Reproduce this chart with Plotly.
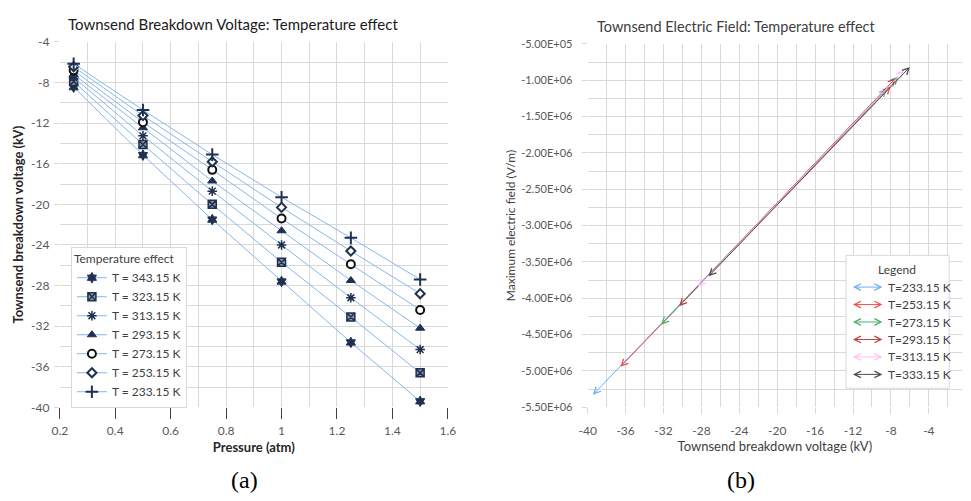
import plotly.graph_objects as go

# ---------------- data: panel (a) ----------------
pressure = [0.25, 0.5, 0.75, 1.0, 1.25, 1.5]
labels_a = ["T = 343.15 K", "T = 323.15 K", "T = 313.15 K", "T = 293.15 K",
            "T = 273.15 K", "T = 253.15 K", "T = 233.15 K"]
v_343 = [-8.45, -15.15, -21.5, -27.6, -33.6, -39.4]
v_323 = [-7.9, -14.1, -20.0, -25.7, -31.1, -36.6]
v_313 = [-7.5, -13.25, -18.7, -24.0, -29.2, -34.3]
v_293 = [-7.2, -12.45, -17.7, -22.6, -27.5, -32.2]
v_273 = [-6.8, -11.9, -16.6, -21.4, -25.9, -30.4]
v_253 = [-6.45, -11.25, -15.8, -20.3, -24.6, -28.8]
v_233 = [-6.15, -10.7, -15.1, -19.3, -23.3, -27.4]
series_a = [v_343, v_323, v_313, v_293, v_273, v_253, v_233]
x_ticks_a = [0.2, 0.4, 0.6, 0.8, 1.0, 1.2, 1.4, 1.6]
y_ticks_a = [-4, -8, -12, -16, -20, -24, -28, -32, -36, -40]

# ---------------- data: panel (b) ----------------
labels_b = ["T=233.15 K", "T=253.15 K", "T=273.15 K", "T=293.15 K",
            "T=313.15 K", "T=333.15 K"]
v_low = [-39.6, -36.7, -32.4, -30.5, -28.5, -27.4]
e_low = [-5.35e6, -4.965e6, -4.386e6, -4.13e6, -3.86e6, -3.72e6]
v_high = [-8.43, -8.02, -7.22, -7.50, -6.63, -6.0]
e_high = [-1.119e6, -1.084e6, -9.5e5, -9.72e5, -8.65e5, -8.17e5]
x_ticks_b = [-40, -36, -32, -28, -24, -20, -16, -12, -8, -4]
y_ticks_b = [-5.0e5, -1.0e6, -1.5e6, -2.0e6, -2.5e6, -3.0e6, -3.5e6,
             -4.0e6, -4.5e6, -5.0e6, -5.5e6]

# ---------------- styles ----------------
W, H = 971, 501
FONT = "Lato"
GRID = "#d9d9d9"
NAVY = "#1f3050"
LINE_A = "#86b6ea"
marker_styles = [
    dict(symbol="hexagram", size=8, color=NAVY, line=dict(color=NAVY, width=1)),
    dict(symbol="square-x", size=8, color="#8a96aa", line=dict(color=NAVY, width=1.5)),
    dict(symbol="asterisk-open", size=8, color=NAVY, line=dict(color=NAVY, width=1.5)),
    dict(symbol="triangle-up", size=8, color=NAVY, line=dict(color=NAVY, width=1)),
    dict(symbol="circle", size=8, color="white", line=dict(color="#111111", width=2)),
    dict(symbol="diamond", size=7, color="white", line=dict(color=NAVY, width=2)),
    dict(symbol="cross-thin-open", size=9, color=NAVY, line=dict(color=NAVY, width=2)),
]
arrow_colors = ["#6aaef0", "#f05050", "#4caf6a", "#b84545", "#ffbdf7", "#4d4d4d"]


def px_x(p):
    return p / W


def px_y(p):
    return (H - p) / H


def note(x, y, text, **kw):
    d = dict(x=px_x(x), y=px_y(y), xref="paper", yref="paper", text=text,
             showarrow=False, xanchor="center", yanchor="middle")
    d.update(kw)
    return d


fig = go.Figure()

for lab, vals, ms in zip(labels_a, series_a, marker_styles):
    fig.add_trace(go.Scatter(
        x=pressure, y=vals, name=lab, mode="lines+markers",
        line=dict(color=LINE_A, width=1), marker=ms,
        xaxis="x", yaxis="y"))

# invisible anchor trace for panel (b)
fig.add_trace(go.Scatter(x=v_low + v_high, y=e_low + e_high, mode="markers",
                         marker=dict(opacity=0), showlegend=False,
                         hoverinfo="skip", xaxis="x2", yaxis="y2"))

AH = dict(arrowside="end+start", arrowhead=5, startarrowhead=5, arrowsize=1.3,
          startarrowsize=1.3, arrowwidth=1, standoff=0, startstandoff=0)

annotations = []
for v0, e0, v1, e1, col in zip(v_low, e_low, v_high, e_high, arrow_colors):
    annotations.append(dict(
        x=v1, y=e1, ax=v0, ay=e0, xref="x2", yref="y2", axref="x2", ayref="y2",
        text="", showarrow=True, arrowcolor=col, **AH))

# manual legend for panel (b)
annotations.append(note(904, 270, "Legend",
                        font=dict(family=FONT, size=12, color="#404040")))
for i, (lab, col) in enumerate(zip(labels_b, arrow_colors)):
    yy = 287.7 + i * 18
    annotations.append(dict(
        x=px_x(889), y=px_y(yy), xref="paper", yref="paper", ax=-31, ay=0,
        axref="pixel", ayref="pixel", text="", showarrow=True,
        arrowcolor=col, **AH))
    annotations.append(note(893, yy, lab, xanchor="left",
                            font=dict(family=FONT, size=12, color="#404040")))

# titles and panel labels
annotations += [
    note(228, 16, "Townsend Breakdown Voltage: Temperature effect",
         font=dict(family=FONT, size=15, color="#1a1a1a")),
    note(740, 19, "Townsend Electric Field: Temperature effect",
         font=dict(family=FONT, size=14.5, color="#404040")),
    note(240, 487, "(a)", font=dict(family="Liberation Serif", size=24, color="black")),
    note(745, 487, "(b)", font=dict(family="Liberation Serif", size=24, color="black")),
]

shapes = [dict(type="rect", xref="paper", yref="paper",
               x0=px_x(852), x1=px_x(957), y0=px_y(392), y1=px_y(255),
               line=dict(color=GRID, width=1), fillcolor="white", layer="above")]

tickfont = dict(family=FONT, size=12, color="#595959")

fig.update_layout(
    width=W, height=H, margin=dict(l=0, r=0, t=0, b=0),
    paper_bgcolor="white", plot_bgcolor="white",
    font=dict(family=FONT, color="#404040"),
    showlegend=True,
    legend=dict(x=px_x(63), y=px_y(246), xanchor="left", yanchor="top",
                bgcolor="white", bordercolor=GRID, borderwidth=1,
                font=dict(family=FONT, size=12, color="#404040"),
                title=dict(text="Temperature effect",
                           font=dict(family=FONT, size=12, color="#404040")),
                itemwidth=30, tracegroupgap=0),
    xaxis=dict(domain=[px_x(51.7), px_x(446.7)], range=[0.2, 1.6],
               tickvals=x_ticks_a, ticktext=[f"{v:g}" for v in x_ticks_a],
               showgrid=True, gridcolor=GRID, zeroline=False,
               minor=dict(dtick=0.1, tick0=0.2, showgrid=True, gridcolor=GRID),
               ticks="outside", ticklen=11, tickcolor="#404040", tickfont=tickfont,
               ticklabelstandoff=1,
               title=dict(text="Pressure (atm)", standoff=6,
                          font=dict(family=FONT, size=13, color="#262626", weight="bold")),
               anchor="y"),
    yaxis=dict(domain=[px_y(411.7), px_y(35)], range=[-40, -4],
               tickvals=y_ticks_a, ticktext=[f"{v:g}" for v in y_ticks_a],
               showgrid=True, gridcolor=GRID, zeroline=False,
               minor=dict(dtick=2, tick0=-40, showgrid=True, gridcolor=GRID),
               ticks="outside", ticklen=5, tickcolor=GRID, tickfont=tickfont,
               ticklabelstandoff=2,
               title=dict(text="Townsend breakdown voltage (kV)", standoff=4,
                          font=dict(family=FONT, size=13, color="#262626", weight="bold")),
               anchor="x"),
    xaxis2=dict(domain=[px_x(589), px_x(970)], range=[-40, -0.5],
                tickvals=x_ticks_b, ticktext=[f"{v:g}" for v in x_ticks_b],
                showgrid=True, gridcolor=GRID, zeroline=False,
                minor=dict(dtick=2, tick0=-40, showgrid=True, gridcolor=GRID),
                ticks="outside", ticklen=6, tickcolor=GRID,
                ticklabelstandoff=6,
                tickfont=dict(family=FONT, size=12, color="#595959"),
                title=dict(text="Townsend breakdown voltage (kV)", standoff=4,
                           font=dict(family=FONT, size=13, color="#404040")),
                anchor="y2"),
    yaxis2=dict(domain=[px_y(411.5), px_y(37)], range=[-5.5e6, -5e5],
                tickvals=y_ticks_b, ticktext=[f"{v:.2E}" for v in y_ticks_b],
                showgrid=True, gridcolor=GRID, zeroline=False,
                minor=dict(dtick=2.5e5, tick0=-5.5e6, showgrid=True, gridcolor=GRID),
                ticks="outside", ticklen=5, tickcolor=GRID,
                ticklabelstandoff=7,
                tickfont=dict(family=FONT, size=11, color="#595959"),
                title=dict(text="Maximum electric field (V/m)", standoff=2,
                           font=dict(family=FONT, size=12, color="#404040")),
                anchor="x2"),
    annotations=annotations, shapes=shapes,
)

fig.write_html("out.html")
